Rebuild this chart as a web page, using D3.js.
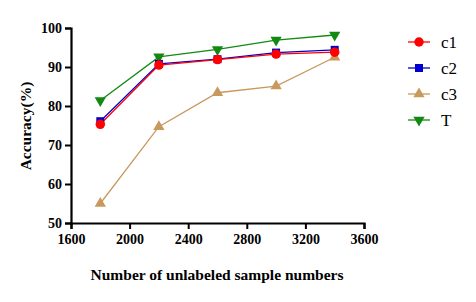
<!DOCTYPE html>
<html>
<head>
<meta charset="utf-8">
<script src="https://cdn.jsdelivr.net/npm/d3@7"></script>
<style>
  body { margin: 0; background: #fff; }
  text { font-family: "Liberation Serif", "Times New Roman", serif; }
</style>
</head>
<body>
<div id="chart"></div>
<script>
// data
var xValues = [1800, 2200, 2600, 3000, 3400];
var c1 = [75.3, 90.5, 91.9, 93.3, 93.8];
var c2 = [76.1, 90.8, 92.0, 93.7, 94.4];
var c3 = [55.0, 74.7, 83.4, 85.1, 92.5];
var T = [81.4, 92.6, 94.5, 96.9, 98.2];
var xTicks = [1600, 2000, 2400, 2800, 3200, 3600];
var yTicks = [50, 60, 70, 80, 90, 100];

var series = [
  { name: "c1", values: c1, color: "#ff0000", symbol: d3.symbolCircle, size: 70 },
  { name: "c2", values: c2, color: "#0000cc", symbol: d3.symbolSquare, size: 64 },
  { name: "c3", values: c3, color: "#c8995c", symbol: d3.symbolTriangle, size: 55 },
  { name: "T", values: T, color: "#128a12", symbol: d3.symbolTriangle, size: 55, flip: true }
];

var width = 476, height = 302;
var svg = d3.select("#chart").append("svg")
  .attr("width", width)
  .attr("height", height);

var x = d3.scaleLinear().domain([1600, 3600]).range([71, 364]);
var y = d3.scaleLinear().domain([50, 100]).range([223, 28]);

// axes
var xAxis = svg.append("g")
  .attr("transform", "translate(0,223)")
  .call(d3.axisBottom(x).tickValues(xTicks).tickFormat(d3.format("d")).tickSizeOuter(0).tickSize(6).tickPadding(5));
var yAxis = svg.append("g")
  .attr("transform", "translate(71,0)")
  .call(d3.axisLeft(y).tickValues(yTicks).tickSizeOuter(0).tickSize(6).tickPadding(3));

[xAxis, yAxis].forEach(function (g) {
  g.selectAll("path.domain").attr("stroke", "#000").attr("stroke-width", 2.2);
  g.selectAll(".tick line").attr("stroke", "#000").attr("stroke-width", 2);
  g.selectAll(".tick text")
    .attr("fill", "#000")
    .style("font-family", "'Liberation Serif', serif")
    .style("font-weight", "bold")
    .style("font-size", "14px");
});

// axis titles
svg.append("text")
  .attr("x", 217)
  .attr("y", 280)
  .attr("text-anchor", "middle")
  .style("font-weight", "bold")
  .style("font-size", "15.5px")
  .text("Number of unlabeled sample numbers");

svg.append("text")
  .attr("transform", "translate(31,126) rotate(-90)")
  .attr("text-anchor", "middle")
  .style("font-weight", "bold")
  .style("font-size", "15.5px")
  .text("Accuracy(%)");

var line = d3.line()
  .x(function (d, i) { return x(xValues[i]); })
  .y(function (d) { return y(d); });

function symbolPath(s) {
  return d3.symbol().type(s.symbol).size(s.size)();
}

// draw lines first (back to front: T, c3, c2, c1)
var order = [series[3], series[2], series[1], series[0]];
order.forEach(function (s) {
  svg.append("path")
    .datum(s.values)
    .attr("fill", "none")
    .attr("stroke", s.color)
    .attr("stroke-width", 1.3)
    .attr("d", line);
});
order.forEach(function (s) {
  svg.selectAll(null)
    .data(s.values)
    .enter()
    .append("path")
    .attr("d", symbolPath(s))
    .attr("fill", s.color)
    .attr("transform", function (d, i) {
      return "translate(" + x(xValues[i]) + "," + y(d) + ")" + (s.flip ? " rotate(180)" : "");
    });
});

// legend
var legend = svg.append("g");
series.forEach(function (s, i) {
  var ly = 42 + i * 26;
  legend.append("line")
    .attr("x1", 408).attr("x2", 430)
    .attr("y1", ly).attr("y2", ly)
    .attr("stroke", s.color)
    .attr("stroke-width", 1.3);
  legend.append("path")
    .attr("d", symbolPath(s))
    .attr("fill", s.color)
    .attr("transform", "translate(419," + ly + ")" + (s.flip ? " rotate(180)" : ""));
  legend.append("text")
    .attr("x", 441)
    .attr("y", ly + 6)
    .style("font-size", "17px")
    .text(s.name);
});
</script>
</body>
</html>
